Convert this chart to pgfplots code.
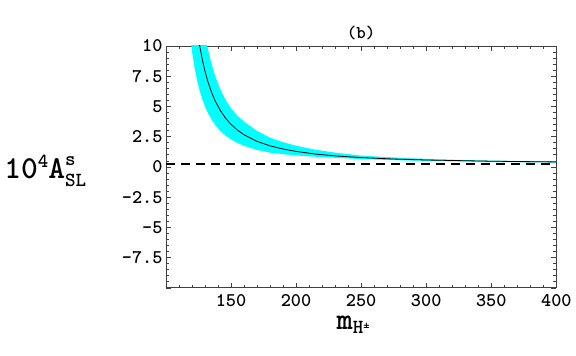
\documentclass[border=0pt]{standalone}
\usepackage{pgfplots}
\pgfplotsset{compat=1.18}
\usepackage{pgfplotstable}
\usepgfplotslibrary{fillbetween}
\definecolor{aqua}{RGB}{0,255,255}

% m, central value, upper and lower edge of the band
\pgfplotstableread{
m    c      u      l
118  18.27  25.45  11.39
120  15.36  21.39  9.59
122  13.14  18.27  8.22
124  11.39  15.83  7.14
126  10.00  13.88  6.28
128  8.86   12.30  5.57
130  7.93   10.99  5.00
132  7.14   9.89   4.51
135  6.19   8.55   3.92
138  5.42   7.48   3.45
142  4.63   6.37   2.95
146  4.01   5.51   2.57
150  3.52   4.85   2.27
155  3.04   4.22   1.98
160  2.66   3.75   1.74
170  2.11   2.98   1.40
180  1.74   2.42   1.18
190  1.48   2.04   1.05
200  1.28   1.75   0.95
215  1.06   1.42   0.84
230  0.91   1.18   0.75
250  0.77   0.93   0.65
275  0.65   0.78   0.56
300  0.57   0.66   0.50
325  0.52   0.58   0.45
350  0.47   0.52   0.41
375  0.44   0.48   0.38
400  0.41   0.45   0.36
}\band

\begin{document}
\begin{tikzpicture}
\begin{axis}[
  scale only axis, width=293pt, height=181.5pt,
  xmin=100, xmax=400, ymin=-10, ymax=10,
  axis line style={black!75, line width=0.6pt},
  tick align=inside, tick pos=both,
  tick style={black!75, line width=0.5pt},
  major tick length=4pt, minor tick length=2.2pt,
  xtick={100,150,...,400}, xticklabels={,150,200,250,300,350,400},
  minor xtick={110,120,...,390},
  ytick={-10,-7.5,...,10}, yticklabels={,-7.5,-5,-2.5,0,2.5,5,7.5,10},
  minor ytick={-9.5,-9,...,9.5},
  ticklabel style={font=\fontsize{14.5}{15}\selectfont\ttfamily\bfseries},
  xticklabel style={yshift=-1.5pt},
  yticklabel style={xshift=1pt},
]
\addplot[name path=U, draw=none] table[x=m, y=u] {\band};
\addplot[name path=L, draw=none] table[x=m, y=l] {\band};
\addplot[fill=aqua, draw=none] fill between[of=U and L];
\addplot[black, line width=0.6pt] table[x=m, y=c] {\band};
\addplot[black, line width=1.4pt, dash pattern=on 6.75pt off 4.5pt] coordinates {(100,0.25) (400,0.25)};
\end{axis}
\node[anchor=base, font=\fontsize{13.5}{14}\selectfont\ttfamily\bfseries] at (146.5pt,187pt) {(b)};
\node[anchor=base west, inner sep=0pt, font=\fontsize{24}{24}\selectfont\ttfamily\bfseries] at (-121.5pt,82pt)
  {10\raisebox{0.8ex}{\fontsize{15}{15}\selectfont 4}A\rlap{\raisebox{0.95ex}{\fontsize{15}{15}\selectfont s}}\raisebox{-0.55ex}{\fontsize{15}{15}\selectfont SL}};
\node[anchor=base west, inner sep=0pt, font=\fontsize{23}{23}\selectfont\ttfamily\bfseries] at (128pt,-31.5pt)
  {m\raisebox{-0.3ex}{\fontsize{15}{15}\selectfont H\raisebox{0.65ex}{\fontsize{9}{9}\selectfont ±}}};
\path[use as bounding box] (-124.5pt,-51pt) rectangle (307.5pt,216pt);
\end{tikzpicture}
\end{document}
